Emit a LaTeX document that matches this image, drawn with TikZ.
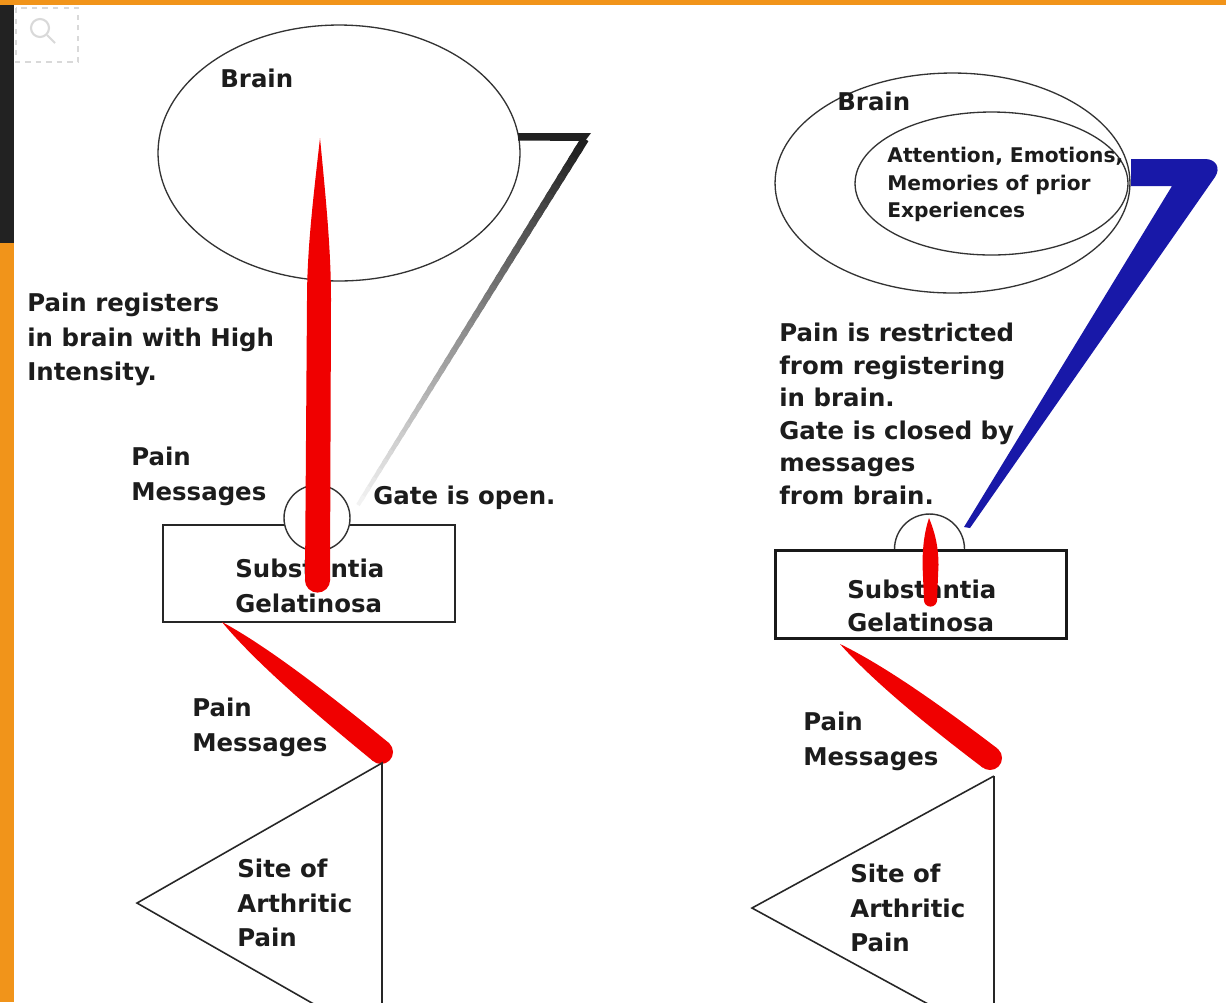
\documentclass[tikz,border=0pt]{standalone}
\usepackage{fontspec}
\setmainfont{DejaVu Sans}
\usetikzlibrary{shapes.geometric,calc}
\definecolor{orangeb}{RGB}{241,148,26}
\definecolor{darkb}{RGB}{34,34,34}
\definecolor{painred}{RGB}{240,0,0}
\definecolor{gateblue}{RGB}{24,24,168}
\definecolor{inkc}{RGB}{28,28,28}
\begin{document}
\begin{tikzpicture}[x=0.02cm,y=-0.02cm,
  lblL/.style={font=\fontsize{13.9}{19.5}\selectfont\bfseries, align=left, anchor=north west, inner sep=0pt, text=inkc},
  lblR/.style={font=\fontsize{13.9}{18.5}\selectfont\bfseries, align=left, anchor=north west, inner sep=0pt, text=inkc},
  lblS/.style={font=\fontsize{11.5}{15.6}\selectfont\bfseries, align=left, anchor=north west, inner sep=0pt, text=inkc},
  brain/.style={ellipse, draw=black!80, line width=0.75pt, inner sep=0pt},
  gate/.style={circle, draw=black!80, fill=white, line width=0.8pt, inner sep=0pt},
  boxL/.style={rectangle, draw=black!85, fill=white, line width=1pt, inner sep=0pt, minimum width=5.84cm, minimum height=1.94cm},
  boxR/.style={rectangle, draw=black!90, fill=white, line width=1.7pt, inner sep=0pt, minimum width=5.84cm, minimum height=1.76cm},
  site/.style={draw=black!85, line width=0.9pt},
]
\useasboundingbox (0,0) rectangle (1226,1002);
\clip (0,0) rectangle (1226,1002);
\fill[white] (0,0) rectangle (1226,1002);
% frame
\fill[orangeb] (0,0) rectangle (1226,5);
\fill[orangeb] (0,0) rectangle (14,1002);
\fill[darkb] (0,5) rectangle (14,243);
% faint icon
\draw[black!15, dashed, line width=0.8pt] (16,8) rectangle (78,62);
\draw[black!15, line width=1.2pt] (40,28) circle[radius=9];
\draw[black!15, line width=1.2pt] (47,35) -- (55,43);

% ================= LEFT =================
\node[brain, minimum width=7.24cm, minimum height=5.12cm] (brainL) at (339,153) {};
\node[lblL] (brainLt) at (220,69) {Brain};
\node[lblL] (regL) at (27,293) {Pain registers\\in brain with High\\Intensity.};
\node[lblL] (pmUL) at (131,447) {Pain\\Messages};
\node[lblL] (openL) at (373,486) {Gate is open.};

% gray fading connector from brain to gate
\coordinate (gA) at (585,139);
\coordinate (gB) at (358,505);
\fill[black!87] (518,133) -- (591,133) -- (585,141) -- (518,140.5) -- cycle;
\foreach \i in {0,...,39}{
  \pgfmathsetmacro\ta{\i/40}
  \pgfmathsetmacro\tb{min((\i+1.4)/40,1)}
  \pgfmathsetmacro\gshd{88-85*\ta}
  \pgfmathsetmacro\gwd{4.6-2.4*\ta}
  \draw[line width=\gwd pt, black!\gshd] ($(gA)!\ta!(gB)$) -- ($(gA)!\tb!(gB)$);
}

\node[boxL] (sgL) at (309,573.5) {};
\node[gate, minimum size=1.32cm] (gateL) at (317,518) {};
\node[lblL] (sgLt) at (235,559) {Substantia\\Gelatinosa};

% red pain message rising to brain
\coordinate (spTipL) at (320,138);
\coordinate (spEndL) at (317.5,580);
\fill[painred] (spTipL) .. controls (326,200) and (331,250) .. (331,300) -- (330,580) -- (305,580) -- (307,300) .. controls (307,250) and (313,200) .. (spTipL) -- cycle;
\fill[painred] (spEndL) circle[radius=12.6];

% lower red stroke (site -> SG)
\coordinate (lsS) at (222,622);
\coordinate (lsE) at (381,752);
\fill[painred] (lsS) .. controls (267,646) and (330.2,695) .. (388.6,742.7) -- (373.4,761.3) .. controls (315,713.6) and (254.4,661.4) .. (lsS) -- cycle;
\fill[painred] (lsE) circle[radius=12];
\node[lblL] (pmLL) at (192,698) {Pain\\Messages};

% site triangle
\coordinate (tLa) at (382,763);
\coordinate (tLb) at (137,903);
\coordinate (tLc) at (382,1043);
\draw[site] (tLa) -- (tLb) -- (tLc) -- cycle;
\node[lblL] (siteL) at (237,859) {Site of\\Arthritic\\Pain};

% ================= RIGHT =================
\node[brain, minimum width=7.1cm, minimum height=4.4cm] (brainR) at (952.5,183) {};
\node[brain, minimum width=5.46cm, minimum height=2.86cm] (attn) at (991.5,183.5) {};
\node[lblR] (brainRt) at (837,92) {Brain};
\node[lblS] (attnt) at (887,147) {Attention, Emotions,\\Memories of prior\\Experiences};
\node[lblR] (restr) at (779,323) {Pain is restricted\\from registering\\in brain.\\Gate is closed by\\messages\\from brain.};

% blue connector closing the gate
\fill[gateblue] (1131,159) -- (1205,159) .. controls (1216,159) and (1221,168) .. (1215,177) -- (970,528) -- (964,527) -- (1172,186) -- (1131,186) -- cycle;

\node[gate, minimum size=1.4cm] (gateR) at (929.5,549) {};
\node[boxR] (sgR) at (921,594) {};
\node[lblR] (sgRt) at (847,580) {Substantia\\Gelatinosa};

% small red message blocked at gate
\coordinate (spTipR) at (929,518);
\coordinate (spEndR) at (930.5,600);
\fill[painred] (spTipR) .. controls (934,530) and (938.5,545) .. (938.5,565) -- (937,600) -- (924,600) -- (922.5,565) .. controls (922.5,545) and (925,530) .. (spTipR) -- cycle;
\fill[painred] (spEndR) circle[radius=6.6];

% lower red stroke right
\coordinate (rsS) at (840,644);
\coordinate (rsE) at (990,758);
\fill[painred] (rsS) .. controls (885.9,666.3) and (942.8,707) .. (997.3,748.4) -- (982.7,767.6) .. controls (928.2,726.2) and (873.8,682.2) .. (rsS) -- cycle;
\fill[painred] (rsE) circle[radius=12];
\node[lblL] (pmLR) at (803,712) {Pain\\Messages};

% site triangle right
\coordinate (tRa) at (994,776);
\coordinate (tRb) at (752,908);
\coordinate (tRc) at (994,1040);
\draw[site] (tRa) -- (tRb) -- (tRc);
\draw[draw=black!85, line width=1.4pt] (tRa) -- (tRc);
\node[lblL] (siteR) at (850,864) {Site of\\Arthritic\\Pain};
\end{tikzpicture}
\end{document}
